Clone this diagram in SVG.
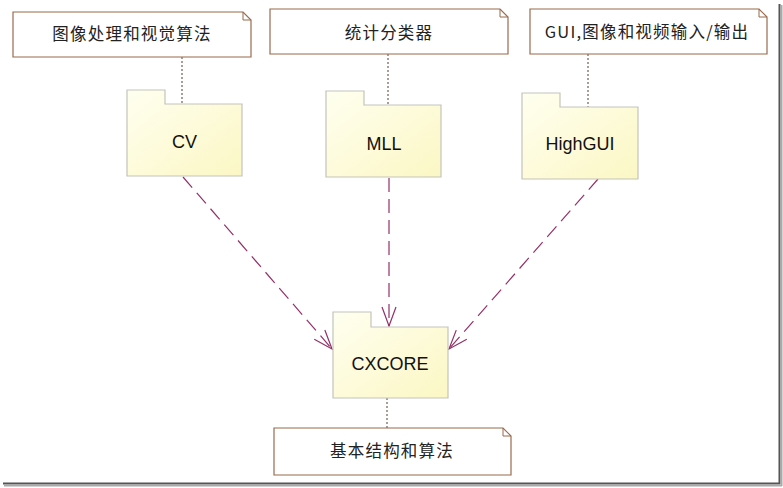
<svg xmlns="http://www.w3.org/2000/svg" width="783" height="488" viewBox="0 0 783 488">
<style>
.note{fill:#ffffff;stroke:#9a6a4c;stroke-width:1.2}
.fold{fill:none;stroke:#9a6a4c;stroke-width:1}
.pkg{fill:url(#pg);stroke:#c4c4bc;stroke-width:1.2}
.cn{font-family:"Noto Sans CJK SC","Liberation Sans",sans-serif;font-size:16.5px;fill:#222;text-anchor:middle;letter-spacing:1.2px}
.lbl{font-family:"Liberation Sans",Arial,sans-serif;font-size:18px;fill:#111;text-anchor:middle}
.dot{stroke:#5a3a30;stroke-width:1;stroke-dasharray:2 2;fill:none}
.dep{stroke:#93306a;stroke-width:1.2;stroke-dasharray:14 7;fill:none;marker-end:url(#oa)}
</style>
<defs>
<linearGradient id="pg" x1="0" y1="0" x2="1" y2="1">
<stop offset="0" stop-color="#fffff0"/>
<stop offset="1" stop-color="#fbf7c4"/>
</linearGradient>
<marker id="oa" viewBox="-20 -8 22 16" refX="0" refY="0" markerWidth="22" markerHeight="16" markerUnits="userSpaceOnUse" orient="auto">
<polyline points="-19,-7 0,0 -19,7" fill="none" stroke="#93306a" stroke-width="1.2" stroke-dasharray="none"/>
</marker>
</defs>
<rect width="783" height="488" fill="#fff"/>
<!-- frame shadow -->
<path d="M779.5 4 V484" stroke="#555" stroke-width="2"/>
<path d="M781.5 5 V486" stroke="#aaa" stroke-width="2"/>
<path d="M3 483.5 H780" stroke="#555" stroke-width="2"/>
<path d="M4 485.5 H782" stroke="#aaa" stroke-width="2"/>

<g id="connectors">
<line class="dot" x1="182" y1="57" x2="182" y2="104"/>
<line class="dot" x1="388" y1="54" x2="388" y2="105"/>
<line class="dot" x1="588" y1="54" x2="588" y2="107"/>
<line class="dot" x1="387" y1="398" x2="387" y2="428"/>
<line class="dep" x1="183" y1="177" x2="332" y2="349"/>
<line class="dep" x1="389" y1="178" x2="389" y2="326"/>
<line class="dep" x1="598" y1="179" x2="449" y2="349"/>
</g>

<g id="note-cv">
<path class="note" d="M13 12 H243 L251 20 V57 H13 Z"/>
<path class="fold" d="M243 12 V20 H251"/>
<text class="cn" x="132" y="40">图像处理和视觉算法</text>
</g>
<g id="note-mll">
<path class="note" d="M270 9 H500 L508 17 V54 H270 Z"/>
<path class="fold" d="M500 9 V17 H508"/>
<text class="cn" x="389" y="39">统计分类器</text>
</g>
<g id="note-highgui">
<path class="note" d="M530 9 H759 L767 17 V54 H530 Z"/>
<path class="fold" d="M759 9 V17 H767"/>
<text class="cn" x="647" y="38" letter-spacing="0.3px">GUI,图像和视频输入/输出</text>
</g>
<g id="note-cxcore">
<path class="note" d="M274 428 H503 L511 436 V475 H274 Z"/>
<path class="fold" d="M503 428 V436 H511"/>
<text class="cn" x="392" y="457">基本结构和算法</text>
</g>

<g id="pkg-cv">
<path class="pkg" d="M127 90 H165 V104 H242 V176 H127 Z"/>
<text class="lbl" x="184.5" y="148">CV</text>
</g>
<g id="pkg-mll">
<path class="pkg" d="M326 91 H364 V105 H441 V177 H326 Z"/>
<text class="lbl" x="384" y="150">MLL</text>
</g>
<g id="pkg-highgui">
<path class="pkg" d="M522 93 H560 V107 H638 V179 H522 Z"/>
<text class="lbl" x="580" y="150">HighGUI</text>
</g>
<g id="pkg-cxcore">
<path class="pkg" d="M333 312 H371 V327 H448 V398 H333 Z"/>
<text class="lbl" x="390" y="370">CXCORE</text>
</g>
</svg>
